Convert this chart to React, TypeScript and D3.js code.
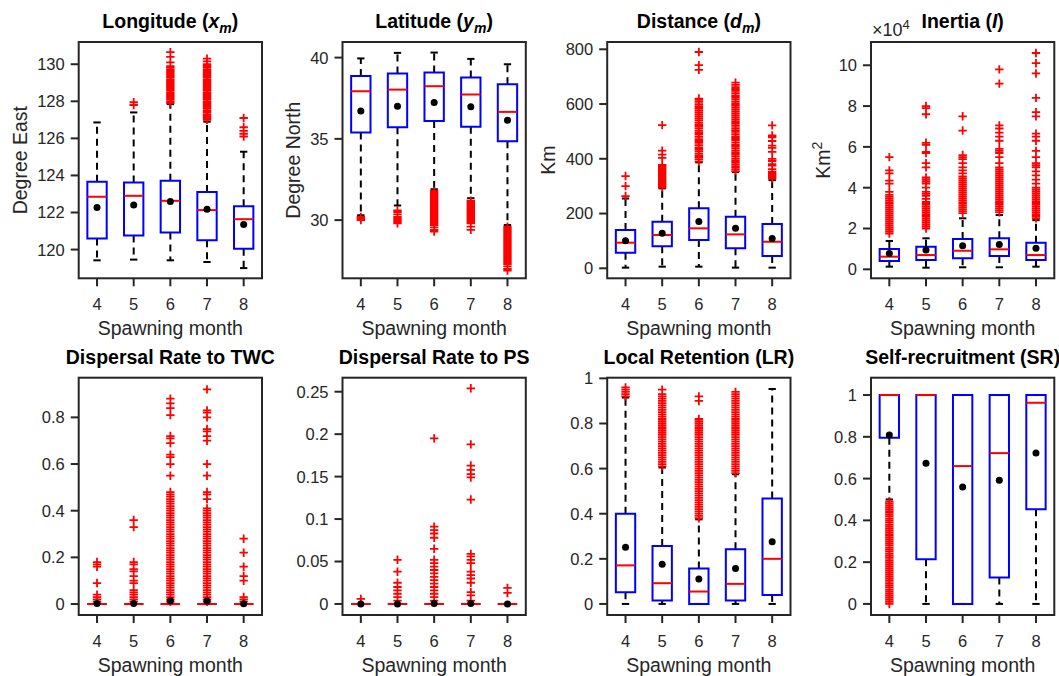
import React from 'react';
import * as d3 from 'd3';

// ---------- data ----------
const months = [4, 5, 6, 7, 8];

// Longitude (x_m), degree east
const lonLow = [119.42, 119.46, 119.42, 119.33, 119.0];
const lonQ1 = [120.6, 120.76, 120.92, 120.5, 120.04];
const lonMed = [122.85, 122.9, 122.63, 122.13, 121.64];
const lonQ3 = [123.66, 123.62, 123.71, 123.1, 122.34];
const lonHigh = [126.86, 127.4, 127.85, 126.9, 125.28];
const lonMean = [122.27, 122.4, 122.6, 122.18, 121.35];
const lonOut = [
  [],
  [127.8, 127.95],
  [127.9, 128.0, 128.1, 128.2, 128.3, 128.4, 128.5, 128.6, 128.7, 128.8, 128.9, 129.0, 129.1, 129.2, 129.3, 129.4, 129.5, 129.6, 129.7, 129.8, 129.9, 130.1, 130.4, 130.65],
  [127.0, 127.1, 127.2, 127.3, 127.4, 127.5, 127.6, 127.7, 127.8, 127.9, 128.0, 128.1, 128.2, 128.3, 128.4, 128.5, 128.6, 128.7, 128.8, 128.9, 129.0, 129.1, 129.2, 129.3, 129.4, 129.5, 129.6, 129.7, 129.8, 129.9, 130.0, 130.15, 130.3],
  [126.1, 126.25, 126.4, 126.6, 127.1],
];
const lonTicks = [120, 122, 124, 126, 128, 130];

// Latitude (y_m), degree north
const latLow = [30.3, 30.9, 31.9, 31.35, 29.7];
const latQ1 = [35.39, 35.72, 36.1, 35.74, 34.86];
const latMed = [37.93, 38.03, 38.24, 37.73, 36.66];
const latQ3 = [38.87, 39.02, 39.08, 38.77, 38.36];
const latHigh = [39.95, 40.29, 40.31, 39.92, 39.59];
const latMean = [36.72, 37.0, 37.23, 36.97, 36.15];
const latOut = [
  [30.0, 30.1, 30.2],
  [29.8, 29.9, 30.0, 30.1, 30.2, 30.35, 30.5, 30.6],
  [29.3, 29.4, 29.55, 29.7, 29.8, 29.9, 30.0, 30.1, 30.2, 30.3, 30.4, 30.5, 30.6, 30.7, 30.8, 30.9, 31.0, 31.1, 31.2, 31.3, 31.4, 31.5, 31.6, 31.7, 31.8],
  [29.4, 29.6, 29.8, 29.9, 30.0, 30.1, 30.2, 30.3, 30.4, 30.5, 30.6, 30.7, 30.8, 30.9, 31.0, 31.1, 31.2],
  [26.9, 27.0, 27.15, 27.3, 27.4, 27.5, 27.6, 27.7, 27.8, 27.9, 28.0, 28.1, 28.2, 28.3, 28.4, 28.5, 28.6, 28.7, 28.8, 28.9, 29.0, 29.1, 29.2, 29.3, 29.4, 29.5, 29.6],
];
const latTicks = [30, 35, 40];

// Distance (d_m), km
const distLow = [2.4, 6, 6, 2.4, 2.4];
const distQ1 = [57, 81, 103, 73, 45];
const distMed = [93.6, 121.6, 146, 124, 97];
const distQ3 = [139.8, 170, 219, 188, 162];
const distHigh = [255, 292, 387, 352, 322];
const distMean = [101, 127.7, 171, 146, 109];
const distOut = [
  [264, 300, 337],
  [295, 300, 306, 312, 318, 324, 330, 336, 342, 348, 354, 360, 366, 372, 378, 403, 415, 430, 523],
  [390, 398, 405, 412, 420, 428, 435, 442, 450, 458, 465, 472, 480, 488, 495, 502, 510, 518, 525, 532, 540, 548, 555, 562, 570, 578, 585, 592, 600, 608, 615, 620, 725, 742, 790],
  [355, 362, 370, 378, 385, 392, 400, 408, 415, 422, 430, 438, 445, 452, 460, 468, 475, 482, 490, 498, 505, 512, 520, 528, 535, 542, 550, 558, 565, 572, 580, 588, 595, 602, 610, 618, 625, 632, 640, 648, 655, 662, 670, 678],
  [328, 333, 338, 343, 348, 353, 362, 375, 380, 392, 400, 425, 440, 448, 465, 478, 485, 522],
];
const distTicks = [0, 200, 400, 600, 800];

// Inertia (I), x10^4 km^2
const inLow = [0.13, 0.08, 0.1, 0.1, 0.13];
const inQ1 = [0.41, 0.46, 0.54, 0.65, 0.46];
const inMed = [0.62, 0.7, 0.91, 0.98, 0.7];
const inQ3 = [0.995, 1.11, 1.48, 1.52, 1.3];
const inHigh = [1.39, 1.52, 2.5, 2.66, 2.41];
const inMean = [0.78, 0.95, 1.16, 1.22, 1.03];
const inOut = [
  [1.75, 1.85, 1.95, 2.05, 2.15, 2.25, 2.35, 2.45, 2.55, 2.65, 2.75, 2.85, 2.95, 3.05, 3.15, 3.25, 3.35, 3.45, 3.55, 3.65, 3.8, 4.2, 4.35, 4.7, 4.85, 5.5],
  [2.0, 2.1, 2.2, 2.3, 2.4, 2.5, 2.6, 2.7, 2.8, 2.9, 3.0, 3.1, 3.2, 3.3, 3.45, 3.6, 3.7, 3.8, 4.0, 4.2, 4.3, 4.4, 4.5, 5.0, 5.2, 5.7, 5.75, 6.1, 6.2, 7.6, 7.9, 8.0],
  [2.75, 2.85, 2.95, 3.05, 3.15, 3.25, 3.35, 3.45, 3.55, 3.65, 3.75, 3.85, 3.95, 4.05, 4.15, 4.25, 4.35, 4.45, 4.55, 4.7, 4.85, 5.0, 5.2, 5.4, 5.5, 5.6, 6.8, 7.5],
  [2.8, 2.9, 3.0, 3.1, 3.2, 3.3, 3.4, 3.5, 3.6, 3.7, 3.8, 3.9, 4.0, 4.1, 4.2, 4.3, 4.4, 4.5, 4.6, 4.7, 4.8, 4.9, 5.0, 5.2, 5.5, 5.7, 5.8, 5.9, 6.3, 6.5, 6.7, 6.9, 7.05, 9.1, 9.8],
  [2.5, 2.6, 2.7, 2.8, 2.9, 3.0, 3.1, 3.2, 3.3, 3.4, 3.5, 3.6, 3.7, 3.8, 3.9, 4.0, 4.2, 4.4, 4.6, 4.8, 5.0, 5.1, 5.2, 5.5, 5.8, 6.3, 6.5, 6.65, 7.5, 7.7, 8.4, 9.6, 10.1, 10.6],
];
const inTicks = [0, 2, 4, 6, 8, 10];

// Dispersal rate to TWC
const twcLow = [0, 0, 0, 0, 0];
const twcQ1 = [0, 0, 0, 0, 0];
const twcMed = [0, 0, 0, 0, 0];
const twcQ3 = [0, 0, 0, 0, 0];
const twcHigh = [0, 0, 0, 0, 0];
const twcMean = [0.002, 0.002, 0.014, 0.013, 0.001];
const twcOut = [
  [0.01, 0.02, 0.03, 0.04, 0.09, 0.16, 0.17, 0.18],
  [0.01, 0.02, 0.03, 0.04, 0.05, 0.06, 0.09, 0.1, 0.12, 0.14, 0.15, 0.17, 0.18, 0.33, 0.36],
  [0.01, 0.02, 0.03, 0.04, 0.05, 0.06, 0.07, 0.08, 0.09, 0.1, 0.11, 0.12, 0.13, 0.14, 0.15, 0.16, 0.17, 0.18, 0.19, 0.2, 0.21, 0.22, 0.23, 0.24, 0.25, 0.26, 0.27, 0.28, 0.29, 0.3, 0.31, 0.32, 0.33, 0.34, 0.35, 0.36, 0.37, 0.38, 0.39, 0.4, 0.41, 0.42, 0.43, 0.44, 0.45, 0.46, 0.47, 0.48, 0.55, 0.6, 0.63, 0.64, 0.69, 0.71, 0.72, 0.81, 0.84, 0.86, 0.88],
  [0.01, 0.02, 0.03, 0.04, 0.05, 0.06, 0.07, 0.08, 0.09, 0.1, 0.11, 0.12, 0.13, 0.14, 0.15, 0.16, 0.17, 0.18, 0.19, 0.2, 0.21, 0.22, 0.23, 0.24, 0.25, 0.26, 0.27, 0.28, 0.29, 0.3, 0.31, 0.32, 0.33, 0.34, 0.35, 0.36, 0.37, 0.38, 0.39, 0.4, 0.41, 0.45, 0.47, 0.48, 0.55, 0.6, 0.7, 0.72, 0.74, 0.75, 0.8, 0.82, 0.83, 0.92],
  [0.01, 0.02, 0.03, 0.1, 0.12, 0.16, 0.22, 0.28],
];
const twcTicks = [0, 0.2, 0.4, 0.6, 0.8];

// Dispersal rate to PS
const psLow = [0, 0, 0, 0, 0];
const psQ1 = [0, 0, 0, 0, 0];
const psMed = [0, 0, 0, 0, 0];
const psQ3 = [0, 0, 0, 0, 0];
const psHigh = [0, 0, 0, 0, 0];
const psMean = [0.0, 0.0, 0.0005, 0.0005, 0.0];
const psOut = [
  [0.006],
  [0.004, 0.008, 0.012, 0.016, 0.02, 0.025, 0.038, 0.052],
  [0.004, 0.008, 0.012, 0.016, 0.02, 0.024, 0.028, 0.032, 0.036, 0.04, 0.044, 0.048, 0.052, 0.065, 0.078, 0.083, 0.087, 0.091, 0.195],
  [0.004, 0.01, 0.014, 0.025, 0.03, 0.034, 0.038, 0.048, 0.052, 0.056, 0.059, 0.123, 0.149, 0.153, 0.158, 0.163, 0.188, 0.254],
  [0.013, 0.019],
];
const psTicks = [0, 0.05, 0.1, 0.15, 0.2, 0.25];

// Local retention (LR)
const lrLow = [0, 0, 0, 0, 0];
const lrQ1 = [0.052, 0.015, 0, 0.015, 0.04];
const lrMed = [0.171, 0.092, 0.055, 0.089, 0.2];
const lrQ3 = [0.4, 0.257, 0.157, 0.242, 0.468];
const lrHigh = [0.915, 0.605, 0.375, 0.575, 0.953];
const lrMean = [0.251, 0.176, 0.111, 0.157, 0.276];
const lrOut = [
  [0.92, 0.93, 0.94, 0.95, 0.96],
  [0.61, 0.62, 0.63, 0.64, 0.65, 0.66, 0.67, 0.68, 0.69, 0.7, 0.71, 0.72, 0.73, 0.74, 0.75, 0.76, 0.77, 0.78, 0.79, 0.8, 0.81, 0.82, 0.83, 0.84, 0.85, 0.86, 0.87, 0.88, 0.89, 0.9, 0.91, 0.92, 0.93, 0.95],
  [0.38, 0.39, 0.4, 0.41, 0.42, 0.43, 0.44, 0.45, 0.46, 0.47, 0.48, 0.49, 0.5, 0.51, 0.52, 0.53, 0.54, 0.55, 0.56, 0.57, 0.58, 0.59, 0.6, 0.61, 0.62, 0.63, 0.64, 0.65, 0.66, 0.67, 0.68, 0.69, 0.7, 0.71, 0.72, 0.73, 0.74, 0.75, 0.76, 0.77, 0.78, 0.79, 0.8, 0.81, 0.82, 0.9, 0.92],
  [0.58, 0.59, 0.6, 0.61, 0.62, 0.63, 0.64, 0.65, 0.66, 0.67, 0.68, 0.69, 0.7, 0.71, 0.72, 0.73, 0.74, 0.75, 0.76, 0.77, 0.78, 0.79, 0.8, 0.81, 0.82, 0.83, 0.84, 0.85, 0.86, 0.87, 0.88, 0.89, 0.9, 0.91, 0.92, 0.93, 0.94],
  [],
];
const lrTicks = [0, 0.2, 0.4, 0.6, 0.8, 1];

// Self-recruitment (SR)
const srLow = [0.5, 0, 0, 0, 0];
const srQ1 = [0.796, 0.214, 0, 0.126, 0.453];
const srMed = [1, 1, 0.66, 0.722, 0.963];
const srQ3 = [1, 1, 1, 1, 1];
const srHigh = [1, 1, 1, 1, 1];
const srMean = [0.809, 0.673, 0.56, 0.592, 0.722];
const srOut = [
  [0.0, 0.01, 0.02, 0.03, 0.04, 0.05, 0.06, 0.07, 0.08, 0.09, 0.1, 0.11, 0.12, 0.13, 0.14, 0.15, 0.16, 0.17, 0.18, 0.19, 0.2, 0.21, 0.22, 0.23, 0.24, 0.25, 0.26, 0.27, 0.28, 0.29, 0.3, 0.31, 0.32, 0.33, 0.34, 0.35, 0.36, 0.37, 0.38, 0.39, 0.4, 0.41, 0.42, 0.43, 0.44, 0.45, 0.46, 0.47, 0.48, 0.49],
  [], [], [], [],
];
const srTicks = [0, 0.2, 0.4, 0.6, 0.8, 1];

// ---------- layout ----------
const FONT = '"Liberation Sans", Arial, Helvetica, sans-serif';
const INK = '#262626';
const TICK_FS = 16.5;
const LABEL_FS = 19.5;
const TITLE_FS = 19.5;
const colLeft = [78.7, 342.5, 607.2, 871];
const plotW = 183.3;
const rowTop = [42, 377.7];
const rowBottom = [278.3, 615];

type Stat = {
  low: number[]; q1: number[]; med: number[]; q3: number[]; high: number[]; mean: number[]; out: number[][];
};

const panels: any[] = [
  { row: 0, col: 0, stat: { low: lonLow, q1: lonQ1, med: lonMed, q3: lonQ3, high: lonHigh, mean: lonMean, out: lonOut }, domain: [118.45, 131.2], ticks: lonTicks, title: 'lon', ylabel: 'Degree East', ylabX: 52 },
  { row: 0, col: 1, stat: { low: latLow, q1: latQ1, med: latMed, q3: latQ3, high: latHigh, mean: latMean, out: latOut }, domain: [26.42, 40.96], ticks: latTicks, title: 'lat', ylabel: 'Degree North', ylabX: 43 },
  { row: 0, col: 2, stat: { low: distLow, q1: distQ1, med: distMed, q3: distQ3, high: distHigh, mean: distMean, out: distOut }, domain: [-36.5, 826.6], ticks: distTicks, title: 'dist', ylabel: 'Km', ylabX: 52 },
  { row: 0, col: 3, stat: { low: inLow, q1: inQ1, med: inMed, q3: inQ3, high: inHigh, mean: inMean, out: inOut }, domain: [-0.44, 11.14], ticks: inTicks, title: 'inertia', ylabel: 'Km2', ylabX: 41 },
  { row: 1, col: 0, stat: { low: twcLow, q1: twcQ1, med: twcMed, q3: twcQ3, high: twcHigh, mean: twcMean, out: twcOut }, domain: [-0.047, 0.97], ticks: twcTicks, title: 'Dispersal Rate to TWC' },
  { row: 1, col: 1, stat: { low: psLow, q1: psQ1, med: psMed, q3: psQ3, high: psHigh, mean: psMean, out: psOut }, domain: [-0.013, 0.2665], ticks: psTicks, title: 'Dispersal Rate to PS' },
  { row: 1, col: 2, stat: { low: lrLow, q1: lrQ1, med: lrMed, q3: lrQ3, high: lrHigh, mean: lrMean, out: lrOut }, domain: [-0.049, 1.003], ticks: lrTicks, title: 'Local Retention (LR)' },
  { row: 1, col: 3, stat: { low: srLow, q1: srQ1, med: srMed, q3: srQ3, high: srHigh, mean: srMean, out: srOut }, domain: [-0.053, 1.083], ticks: srTicks, title: 'Self-recruitment (SR)' },
];

function Title({ kind }: { kind: string }) {
  if (kind === 'lon')
    return (<>
      <tspan>Longitude (</tspan><tspan fontStyle="italic">x</tspan>
      <tspan fontStyle="italic" fontSize={14} dy={5}>m</tspan><tspan dy={-5}>)</tspan>
    </>);
  if (kind === 'lat')
    return (<>
      <tspan>Latitude (</tspan><tspan fontStyle="italic">y</tspan>
      <tspan fontStyle="italic" fontSize={14} dy={5}>m</tspan><tspan dy={-5}>)</tspan>
    </>);
  if (kind === 'dist')
    return (<>
      <tspan>Distance (</tspan><tspan fontStyle="italic">d</tspan>
      <tspan fontStyle="italic" fontSize={14} dy={5}>m</tspan><tspan dy={-5}>)</tspan>
    </>);
  if (kind === 'inertia')
    return (<>
      <tspan>Inertia (</tspan><tspan fontStyle="italic">I</tspan><tspan>)</tspan>
    </>);
  return <tspan>{kind}</tspan>;
}

function fmt(v: number) {
  return d3.format('~g')(+v.toFixed(4));
}

function Panel({ p }: { p: any }) {
  const left = colLeft[p.col];
  const right = left + plotW;
  const top = rowTop[p.row];
  const bottom = rowBottom[p.row];
  const x = d3.scaleLinear().domain([3.5, 8.5]).range([left, right]);
  const y = d3.scaleLinear().domain(p.domain).range([bottom, top]);
  const s: Stat = p.stat;
  const bw = 0.264;
  const cw = 0.1;
  const cx = (left + right) / 2;
  const cy = (top + bottom) / 2;

  return (
    <g>
      {months.map((m, i) => (
        <g key={'w' + m} stroke="#000" strokeWidth={2} strokeDasharray="7 5" fill="none">
          <line x1={x(m)} x2={x(m)} y1={y(s.q3[i])} y2={y(s.high[i])} />
          <line x1={x(m)} x2={x(m)} y1={y(s.q1[i])} y2={y(s.low[i])} />
        </g>
      ))}
      {months.map((m, i) => (
        <g key={'c' + m} stroke="#000" strokeWidth={2}>
          <line x1={x(m - cw)} x2={x(m + cw)} y1={y(s.high[i])} y2={y(s.high[i])} />
          <line x1={x(m - cw)} x2={x(m + cw)} y1={y(s.low[i])} y2={y(s.low[i])} />
        </g>
      ))}
      {months.map((m, i) => {
        const x0 = x(m - bw), x1 = x(m + bw), y0 = y(s.q3[i]), y1 = y(s.q1[i]);
        return <path key={'b' + m} d={`M${x0},${y0}L${x1},${y0}L${x1},${y1}L${x0},${y1}Z`} fill="none" stroke="#0000ff" strokeWidth={2} />;
      })}
      {months.map((m, i) => (
        <line key={'m' + m} x1={x(m - bw)} x2={x(m + bw)} y1={y(s.med[i])} y2={y(s.med[i])} stroke="#ff0000" strokeWidth={2} />
      ))}
      {months.map((m, i) => (
        <path key={'o' + m}
          d={s.out[i].map((v) => `M${x(m) - 4.2},${y(v)}h8.4M${x(m)},${y(v) - 4.2}v8.4`).join('')}
          stroke="#ff0000" strokeWidth={1.8} fill="none" />
      ))}
      {months.map((m, i) => (
        <circle key={'mean' + m} cx={x(m)} cy={y(s.mean[i])} r={3.5} fill="#000" />
      ))}
      <rect x={left} y={top} width={plotW} height={bottom - top} fill="none" stroke={INK} strokeWidth={2} />
      {p.ticks.map((t: number) => (
        <g key={'yt' + t}>
          <line x1={left - 8} x2={left} y1={y(t)} y2={y(t)} stroke={INK} strokeWidth={2} />
          <text x={left - 14} y={y(t)} dy="0.36em" textAnchor="end" fontSize={TICK_FS} fill={INK} fontFamily={FONT}>{fmt(t)}</text>
        </g>
      ))}
      {months.map((m) => (
        <g key={'xt' + m}>
          <line x1={x(m)} x2={x(m)} y1={bottom} y2={bottom + 8} stroke={INK} strokeWidth={2} />
          <text x={x(m)} y={bottom + 32} textAnchor="middle" fontSize={TICK_FS} fill={INK} fontFamily={FONT}>{m}</text>
        </g>
      ))}
      <text x={cx} y={bottom + 57} textAnchor="middle" fontSize={LABEL_FS} fill={INK} fontFamily={FONT}>Spawning month</text>
      <text x={cx} y={top - 14} textAnchor="middle" fontSize={TITLE_FS} fontWeight="bold" fill="#000" fontFamily={FONT}>
        <Title kind={p.title} />
      </text>
      {p.ylabel && (
        <text transform={`translate(${left - p.ylabX},${cy}) rotate(-90)`} textAnchor="middle" fontSize={LABEL_FS} fill={INK} fontFamily={FONT}>
          {p.ylabel === 'Km2' ? (<><tspan>Km</tspan><tspan fontSize={14} dy={-8}>2</tspan></>) : p.ylabel}
        </text>
      )}
      {p.title === 'inertia' && (
        <text x={left + 1} y={top - 6} fontSize={18} fill={INK} fontFamily={FONT}>
          <tspan>×10</tspan><tspan fontSize={13} dy={-7}>4</tspan>
        </text>
      )}
    </g>
  );
}

export default function App() {
  return (
    <svg width={1059} height={676} style={{ position: 'absolute', left: 0, top: 0, background: '#fff' }}>
      <rect x={0} y={0} width={1059} height={676} fill="#fff" />
      {panels.map((p, i) => <Panel key={i} p={p} />)}
    </svg>
  );
}
